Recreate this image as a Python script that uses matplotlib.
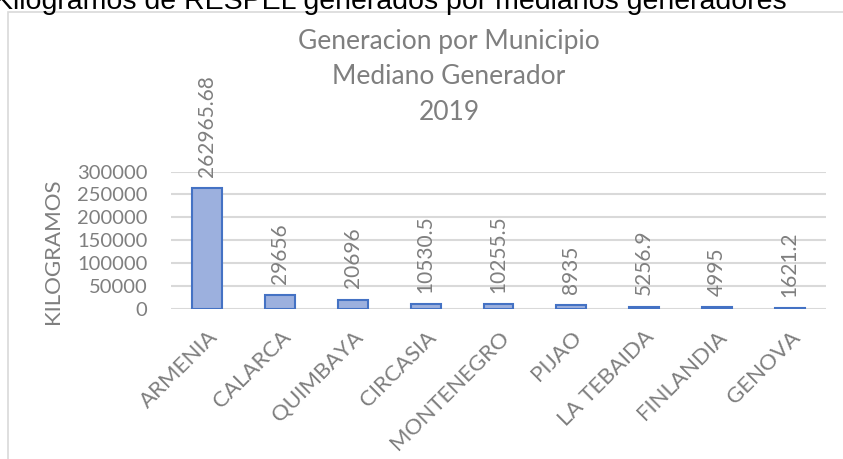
import matplotlib
matplotlib.use("Agg")
import matplotlib.pyplot as plt
from matplotlib.patches import Rectangle

# data
municipios = ["ARMENIA", "CALARCA", "QUIMBAYA", "CIRCASIA", "MONTENEGRO",
              "PIJAO", "LA TEBAIDA", "FINLANDIA", "GENOVA"]
kilogramos = [262965.68, 29656, 20696, 10530.5, 10255.5, 8935, 5256.9, 4995, 1621.2]
etiquetas = ["262965.68", "29656", "20696", "10530.5", "10255.5",
             "8935", "5256.9", "4995", "1621.2"]
yticks = [0, 50000, 100000, 150000, 200000, 250000, 300000]
titulo = ["Generacion por Municipio", "Mediano Generador", "2019"]

W, H = 843, 459
grey = "#7f7f7f"
fnt = "Lato"

fig = plt.figure(figsize=(W / 100, H / 100), dpi=100)

# chart frame (light grey border running off the right/bottom)
fig.patches.append(Rectangle((8 / W, -0.5), 2.0, 1 - 12 / H + 0.5,
                             transform=fig.transFigure, fill=False,
                             edgecolor="#d9d9d9", linewidth=1.2))

# cut-off heading at the top
fig.text(-6 / W, 1 - 9 / H, "Kilogramos de RESPEL generados por medianos generadores",
         family="Liberation Sans", fontsize=20.5, color="black",
         ha="left", va="baseline")

ax = fig.add_axes([171 / W, 1 - 309 / H, (826 - 171) / W, (309 - 171.5) / H])
x = range(len(municipios))
bars = ax.bar(x, kilogramos, width=0.41, color="#9cb0de",
              edgecolor="#4472c4", linewidth=1.5, zorder=3)

for i, (v, lab) in enumerate(zip(kilogramos, etiquetas)):
    ax.annotate(lab, (i, v), xytext=(0, 8), textcoords="offset points",
                rotation=90, ha="center", va="bottom",
                family=fnt, fontsize=15, color=grey, annotation_clip=False)

ax.set_xlim(-0.5, len(municipios) - 0.5)
ax.set_ylim(0, 300000)
ax.set_yticks(yticks)
ax.set_yticklabels([str(t) for t in yticks], family=fnt, fontsize=14.5, color=grey)
ax.set_xticks(list(x))
ax.set_xticklabels(municipios, rotation=45, ha="right", rotation_mode="anchor",
                   family=fnt, fontsize=16, color=grey)
ax.tick_params(axis="y", length=0, pad=17)
ax.tick_params(axis="x", length=0, pad=13)
ax.grid(axis="y", color="#d9d9d9", linewidth=1.5, zorder=0)
for s in ax.spines.values():
    s.set_visible(False)
ax.set_ylabel("KILOGRAMOS", family=fnt, fontsize=16, color=grey)
ax.yaxis.set_label_coords(-0.165, 0.42)

for line, yy in zip(titulo, [42, 77, 112]):
    fig.text(449 / W, 1 - yy / H, line, family=fnt, fontsize=19, color=grey,
             ha="center", va="center")

fig.savefig("out.png", dpi=100)
